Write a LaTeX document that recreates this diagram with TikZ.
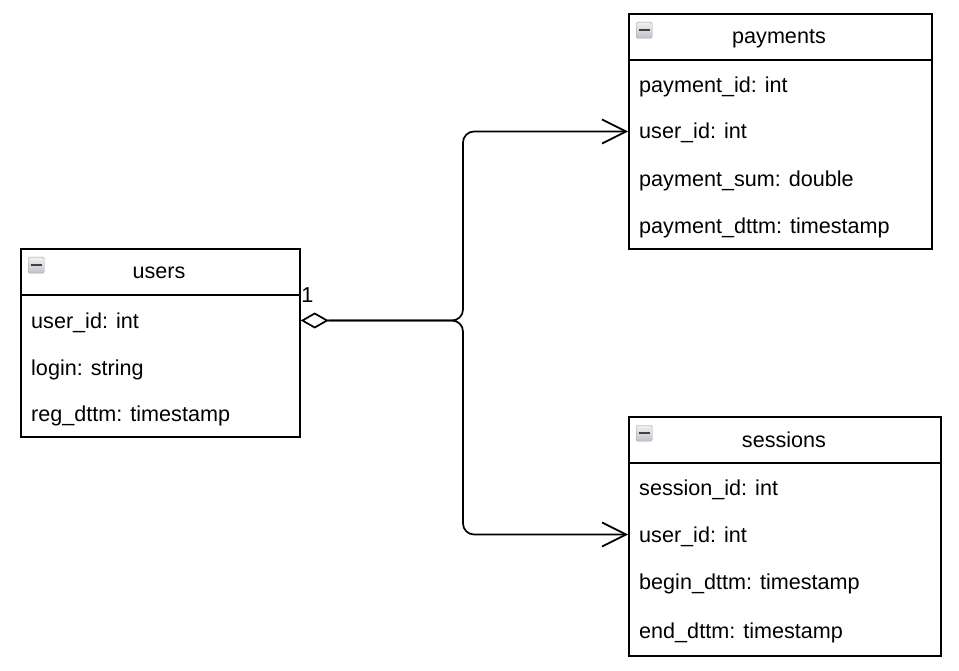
\documentclass[tikz,border=0pt]{standalone}
\usepackage{fontspec}
\setmainfont{Liberation Sans}
\usetikzlibrary{arrows.meta,positioning}
\tikzset{
  tbl/.style={draw,line width=1.7pt,anchor=north west,inner sep=0pt},
  field/.style={anchor=west,inner sep=0pt,text height=15pt,text depth=0pt,font=\fontsize{21.6}{26}\selectfont},
  tbltitle/.style={anchor=base,inner sep=0pt,font=\fontsize{21.6}{26}\selectfont},
  icon/.style={draw=gray!75,rounded corners=1.5pt,top color=blue!5!gray!10,bottom color=blue!10!gray!45,minimum size=16pt,inner sep=0pt,anchor=north west},
  minus/.style={line width=2.4pt,black!75},
  link/.style={line width=1.7pt,rounded corners=11pt}
}
\begin{document}
\begin{tikzpicture}[x=1pt,y=-1pt]
\useasboundingbox (0,0) rectangle (959,671);
% users
\node[tbl,minimum width=279pt,minimum height=188pt] (users) at (20,248) {};
\draw[line width=1.7pt] (20,295) -- (299,295);
\node[icon] (users-ic) at (28,257) {};
\draw[minus] (users-ic.center) +(-5.5,0) -- +(5.5,0);
\node[tbltitle] (users-t) at (159,279) {users};
\node[field] (users-uid) at (31,320.5) {user\_id: int};
\node[field] (users-login) at (31,368) {login: string};
\node[field] (users-reg) at (31,414) {reg\_dttm: timestamp};
% payments
\node[tbl,minimum width=303pt,minimum height=235pt] (payments) at (628,13) {};
\draw[line width=1.7pt] (628,60) -- (931,60);
\node[icon] (payments-ic) at (636,22) {};
\draw[minus] (payments-ic.center) +(-5.5,0) -- +(5.5,0);
\node[tbltitle] (payments-t) at (779,44) {payments};
\node[field] (payments-pid) at (639,85) {payment\_id: int};
\node[field] (payments-uid) at (639,131.5) {user\_id: int};
\node[field] (payments-sum) at (639,179) {payment\_sum: double};
\node[field] (payments-dttm) at (639,226) {payment\_dttm: timestamp};
% sessions
\node[tbl,minimum width=312pt,minimum height=239pt] (sessions) at (628,416) {};
\draw[line width=1.7pt] (628,463) -- (940,463);
\node[icon] (sessions-ic) at (636,425) {};
\draw[minus] (sessions-ic.center) +(-5.5,0) -- +(5.5,0);
\node[tbltitle] (sessions-t) at (784,447) {sessions};
\node[field] (sessions-sid) at (639,488) {session\_id: int};
\node[field] (sessions-uid) at (639,534.5) {user\_id: int};
\node[field] (sessions-begin) at (639,582) {begin\_dttm: timestamp};
\node[field] (sessions-end) at (639,631) {end\_dttm: timestamp};
% links
\coordinate (fork) at (463,320.5);
\node[field,anchor=center] (one) at (307.5,295) {1};
\draw[link,{Diamond[open,length=28pt,width=16pt]}-{Straight Barb[length=24pt,width=24pt]}]
  (users.east |- users-uid) -- (fork) |- (payments.west |- payments-uid);
\draw[link,-{Straight Barb[length=24pt,width=24pt]}]
  ([xshift=28pt]users.east |- users-uid) -- (fork) |- (sessions.west |- sessions-uid);
\end{tikzpicture}
\end{document}
